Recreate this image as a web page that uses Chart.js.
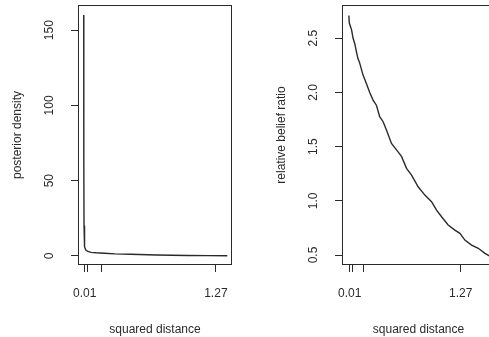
<!DOCTYPE html>
<html>
<head>
<meta charset="utf-8">
<title>posterior density / relative belief ratio</title>
<script src="https://cdn.jsdelivr.net/npm/chart.js"></script>
<style>
  body { margin: 0; background: #fff; }
  #wrap { position: relative; width: 489px; height: 337px; overflow: hidden; }
  canvas { position: absolute; top: 0; }
</style>
</head>
<body>
<div id="wrap">
  <canvas id="left" width="245" height="337" style="left:0"></canvas>
  <canvas id="right" width="260" height="337" style="left:245px"></canvas>
</div>
<script>
// x ticks shared by both panels (only ends get labels, R drops the crowded ones)
const xTicks = [0.01, 0.036, 0.17, 1.27];
const xTickLabels = ['0.01', '', '', '1.27'];

// left panel: posterior density of squared distance
const densX = [0, 0.001, 0.003, 0.006, 0.01, 0.02, 0.04, 0.07, 0.12, 0.2, 0.3, 0.45, 0.7, 1.0, 1.2, 1.38];
const densY = [160, 60, 20, 11, 6, 4, 3, 2.4, 2.1, 1.8, 1.4, 1.1, 0.65, 0.35, 0.2, 0.1];
const densTicks = [0, 50, 100, 150];

// right panel: relative belief ratio
const rbX = [0, 0.005, 0.03, 0.048, 0.067, 0.086, 0.104, 0.12, 0.161, 0.2, 0.237, 0.275, 0.314, 0.35, 0.389,
  0.427, 0.484, 0.541, 0.598, 0.655, 0.712, 0.787, 0.863, 0.939, 0.996, 1.053, 1.128, 1.204, 1.261,
  1.318, 1.394, 1.47, 1.546, 1.6];
const rbY = [2.71, 2.64, 2.58, 2.5, 2.45, 2.375, 2.31, 2.28, 2.16, 2.08, 2.0, 1.93, 1.88, 1.776, 1.73,
  1.653, 1.53, 1.47, 1.41, 1.3, 1.238, 1.13, 1.053, 0.992, 0.915, 0.853, 0.777, 0.73, 0.7,
  0.638, 0.592, 0.562, 0.516, 0.49];
const rbTicks = [0.5, 1.0, 1.5, 2.0, 2.5];

const INK = '#2a2a2a';
const FONT = '12px "Liberation Sans", Arial, sans-serif';

// R-style frame, rotated y labels and axis titles
const rFrame = {
  id: 'rFrame',
  afterDraw(chart, args, o) {
    const { ctx, chartArea: a, scales: { y } } = chart;
    ctx.save();
    ctx.strokeStyle = INK;
    ctx.lineWidth = 1;
    ctx.strokeRect(Math.round(a.left) + 0.5, Math.round(a.top) + 0.5,
      Math.round(a.right - a.left) - 1, Math.round(a.bottom - a.top) - 1);
    ctx.fillStyle = INK;
    ctx.font = FONT;
    ctx.textAlign = 'center';
    ctx.textBaseline = 'middle';
    o.ticks.forEach((v, i) => {
      ctx.save();
      ctx.translate(o.labelX, y.getPixelForValue(v));
      ctx.rotate(-Math.PI / 2);
      ctx.fillText(o.tickLabels[i], 0, 0);
      ctx.restore();
    });
    ctx.save();
    ctx.translate(o.titleX, (a.top + a.bottom) / 2);
    ctx.rotate(-Math.PI / 2);
    ctx.fillText(o.yTitle, 0, 0);
    ctx.restore();
    ctx.fillText('squared distance', (a.left + a.right) / 2, 330);
    ctx.restore();
  }
};

function makePanel(id, xs, ys, yTicks, yTickLabels, cfg) {
  const canvas = document.getElementById(id);
  return new Chart(canvas, {
    type: 'line',
    data: {
      datasets: [{
        data: xs.map((x, i) => ({ x: x, y: ys[i] })),
        borderColor: INK,
        borderWidth: 1.4,
        pointRadius: 0,
        tension: 0,
        fill: false
      }]
    },
    options: {
      responsive: false,
      animation: false,
      devicePixelRatio: 1,
      layout: { padding: { top: 5, left: 0, bottom: 0, right: canvas.width - cfg.boxRight } },
      plugins: {
        legend: { display: false },
        tooltip: { enabled: false },
        rFrame: { ticks: yTicks, tickLabels: yTickLabels, labelX: cfg.boxLeft - 28, titleX: cfg.boxLeft - 60, yTitle: cfg.yTitle }
      },
      scales: {
        x: {
          type: 'linear',
          min: cfg.xMin,
          max: cfg.xMax,
          afterBuildTicks: s => { s.ticks = xTicks.map(v => ({ value: v })); },
          afterFit: s => { s.height = 72; },
          border: { display: false },
          grid: { display: true, drawOnChartArea: false, drawTicks: true, tickLength: 7, color: INK },
          ticks: {
            autoSkip: false, maxRotation: 0, padding: 14, color: INK,
            font: { family: '"Liberation Sans", Arial, sans-serif', size: 12 },
            callback: (v, i) => xTickLabels[i]
          }
        },
        y: {
          type: 'linear',
          min: cfg.yMin,
          max: cfg.yMax,
          afterBuildTicks: s => { s.ticks = yTicks.map(v => ({ value: v })); },
          afterFit: s => { s.width = cfg.boxLeft; },
          border: { display: false },
          grid: { display: true, drawOnChartArea: false, drawTicks: true, tickLength: 7, color: INK },
          ticks: { display: false }
        }
      }
    },
    plugins: [rFrame]
  });
}

makePanel('left', densX, densY, densTicks, densTicks.map(String), {
  boxLeft: 78, boxRight: 232, xMin: -0.055, xMax: 1.425, yMin: -6, yMax: 166.7, yTitle: 'posterior density'
});
makePanel('right', rbX, rbY, rbTicks, rbTicks.map(v => v.toFixed(1)), {
  boxLeft: 97, boxRight: 250, xMin: -0.078, xMax: 1.66, yMin: 0.408, yMax: 2.807, yTitle: 'relative belief ratio'
});
</script>
</body>
</html>
